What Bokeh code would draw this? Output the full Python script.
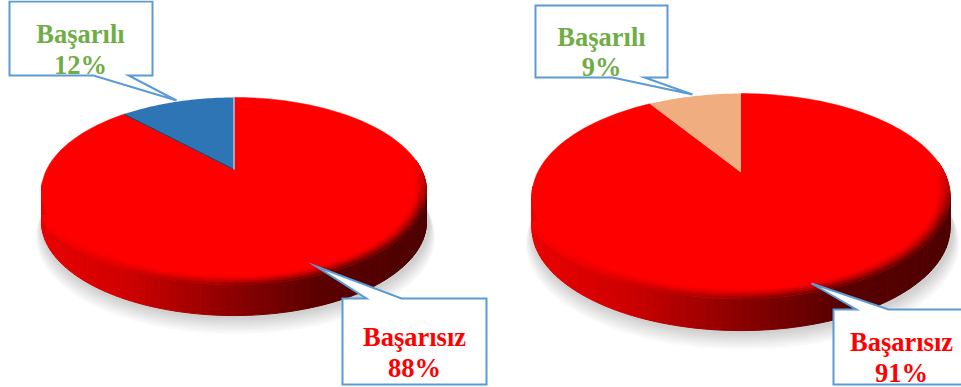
import math
from bokeh.plotting import figure
from bokeh.models import Range1d
from bokeh.core.properties import value
from bokeh.embed import file_html
from bokeh.resources import INLINE

categories = ["Başarılı", "Başarısız"]
left_values = [12, 88]
right_values = [9, 91]
success_colors = ["#2e75b6", "#f0ae80"]
fail_color = "#ff0000"
label_colors = ["#70ad47", "#ff0000"]

# pie: apex x, apex y, Rx, Ry, perspective k, thickness
pies = [dict(ax=233.5, ay=169, rx=187.3, ry=88.6, k=0.23, t=31),
        dict(ax=740.5, ay=172, rx=203.4, ry=97.1, k=0.23, t=32)]

# callouts: box l,t,r,b ; tail a, tip, tail b ; text centre x ; baselines
callouts = [
    dict(box=(9, 1, 152, 75), tail=((93, 75), (176, 100), (128, 75)), tx=80, base=(33, 64)),
    dict(box=(342, 298, 486, 384), tail=((401, 298), (316, 266), (366, 298)), tx=414, base=(336, 367)),
    dict(box=(535, 5, 667, 77), tail=((612, 77), (692, 94), (644, 77)), tx=601, base=(36, 66)),
    dict(box=(833, 309, 980, 384), tail=((888, 309), (811, 283), (856, 309)), tx=901, base=(341, 372)),
]

p = figure(width=961, height=387, output_backend="svg", toolbar_location=None,
           x_range=Range1d(0, 961), y_range=Range1d(387, 0),
           min_border=0, outline_line_color=None, background_fill_color="white")
p.axis.visible = False
p.grid.visible = False
p.styles = {"position": "absolute", "left": "0px", "top": "0px"}


def pt(g, deg, s=1.0):
    th = math.radians(deg)
    u, v = s * math.sin(th), s * math.cos(th)
    d = 1 + g["k"] * v
    return g["ax"] + g["rx"] * u / d, g["ay"] - g["ry"] * v / d


def rim(g, deg, s=1.0):
    """The lit left-front rim hangs a little lower than the plain ellipse."""
    x, y = pt(g, deg, s)
    phi = deg - 180
    if 0 < phi <= 77:
        y += 25 * (phi / 77) ** 3 * g["t"] / 31
    return x, y


def lerp(c1, c2, t):
    return tuple(a + (b - a) * t for a, b in zip(c1, c2))


def hexc(c):
    return "#%02x%02x%02x" % tuple(int(round(x)) for x in c)


STOPS = [(0.0, (232, 0, 0)), (0.22, (208, 0, 0)), (0.5, (138, 0, 0)), (0.72, (90, 0, 0)), (1.0, (78, 0, 0))]


def side_col(f):
    for (a, ca), (b, cb) in zip(STOPS, STOPS[1:]):
        if f <= b:
            return lerp(ca, cb, (f - a) / (b - a))
    return STOPS[-1][1]


def draw_pie(g, vals, slice_col):
    w = g["rx"] * 1.03
    xmin = g["ax"] - w
    N = 120
    degs = [i * 3 for i in range(N + 1)]
    # soft shadow
    for j in range(8):
        s = 1.0 + 0.004 * j
        o = g["t"] + 3 + j * 1.6
        xs, ys = [], []
        for d in degs:
            x, y = pt(g, d, s)
            xs.append(x + 3 * (1 if math.sin(math.radians(d)) > 0 else 0))
            ys.append(y + o)
        p.patch(xs, ys, fill_color="#000000", fill_alpha=0.022, line_color=None)
    # side wall
    xs, ys, cols = [], [], []
    for a in range(84, 262, 2):
        x1, y1 = pt(g, a)
        x2, y2 = pt(g, a + 2)
        xs.append([x1, x2, x2, x1])
        ys.append([y1, y2, y2 + g["t"], y1 + g["t"]])
        cols.append(hexc(side_col(((x1 + x2) / 2 - xmin) / (2 * w))))
    p.patches(xs, ys, fill_color=cols, line_color=cols, line_width=1)
    # extension of the face over the left of the wall
    ex, ey = [], []
    for a in range(180, 258, 2):
        x, y = rim(g, a)
        ex.append(x)
        ey.append(y)
    p.patch(ex + [g["ax"]], ey + [g["ay"]], fill_color=fail_color, line_color=fail_color, line_width=0.5)
    # top face
    red_deg = vals[1] * 3.6
    fx, fy = [], []
    for i in range(0, 181):
        x, y = pt(g, red_deg * i / 180)
        fx.append(x)
        fy.append(y)
    p.patch(fx + [g["ax"]], fy + [g["ay"]], fill_color=fail_color, line_color=fail_color, line_width=0.5)
    # bevel on the near rim
    K = 7
    xs, ys, cols = [], [], []
    for a in range(84, 255, 3):
        weight = min(1.0, max(0.0, (a - 84) / 30.0)) * min(1.0, max(0.0, (255 - a) / 50.0))
        x0, _ = pt(g, a)
        base = side_col((x0 - xmin) / (2 * w))
        for j in range(K):
            s1 = 1 - 0.009 * j
            s2 = 1 - 0.009 * (j + 1)
            t = 1 - (1 - (j + 0.5) / K) ** 1.3 * weight
            c = hexc(lerp(base, (255, 0, 0), t))
            a1, b1 = rim(g, a, s1)
            a2, b2 = rim(g, a + 3, s1)
            a3, b3 = rim(g, a + 3, s2)
            a4, b4 = rim(g, a, s2)
            xs.append([a1, a2, a3, a4])
            ys.append([b1, b2, b3, b4])
            cols.append(c)
    p.patches(xs, ys, fill_color=cols, line_color=cols, line_width=0.6)
    # success slice
    sx, sy = [], []
    for i in range(0, 41):
        x, y = pt(g, red_deg + (360 - red_deg) * i / 40)
        sx.append(x)
        sy.append(y)
    p.patch(sx + [g["ax"]], sy + [g["ay"]], fill_color=slice_col, line_color=None)
    return sx, sy


s1 = draw_pie(pies[0], left_values, success_colors[0])
g0 = pies[0]
p.line([g0["ax"], s1[0][0]], [g0["ay"], s1[1][0]], line_color="#1f3f66", line_width=1)
p.line([g0["ax"], s1[0][-1]], [g0["ay"], s1[1][-1]], line_color="#b4c6dc", line_width=1.5)
draw_pie(pies[1], right_values, success_colors[1])

labels = [(categories[0], left_values[0], label_colors[0]),
          (categories[1], left_values[1], label_colors[1]),
          (categories[0], right_values[0], label_colors[0]),
          (categories[1], right_values[1], label_colors[1])]

for c, (name, val, col) in zip(callouts, labels):
    l, t, r, b = c["box"]
    (ax_, ay_), (tx_, ty_), (bx_, by_) = c["tail"]
    order = sorted([(ax_, ay_), (bx_, by_)])
    if ty_ < t:   # tail leaves the top edge
        xs = [l, order[0][0], tx_, order[1][0], r, r, l]
        ys = [t, t, ty_, t, t, b, b]
    else:         # tail leaves the bottom edge
        xs = [l, r, r, order[1][0], tx_, order[0][0], l]
        ys = [t, t, b, b, ty_, b, b]
    p.patch(xs, ys, fill_color="white", line_color="#5b9bd5", line_width=2, line_join="miter")
    p.text([c["tx"]], [c["base"][0]], text=[name], text_color=col, text_align="center",
           text_baseline="alphabetic", text_font=value("Liberation Serif"),
           text_font_style="bold", text_font_size="26.5px")
    p.text([c["tx"]], [c["base"][1]], text=[f"{val}%"], text_color=col, text_align="center",
           text_baseline="alphabetic", text_font=value("Liberation Serif"),
           text_font_style="bold", text_font_size="26.5px")

open("out.html", "w").write(file_html(p, INLINE))
